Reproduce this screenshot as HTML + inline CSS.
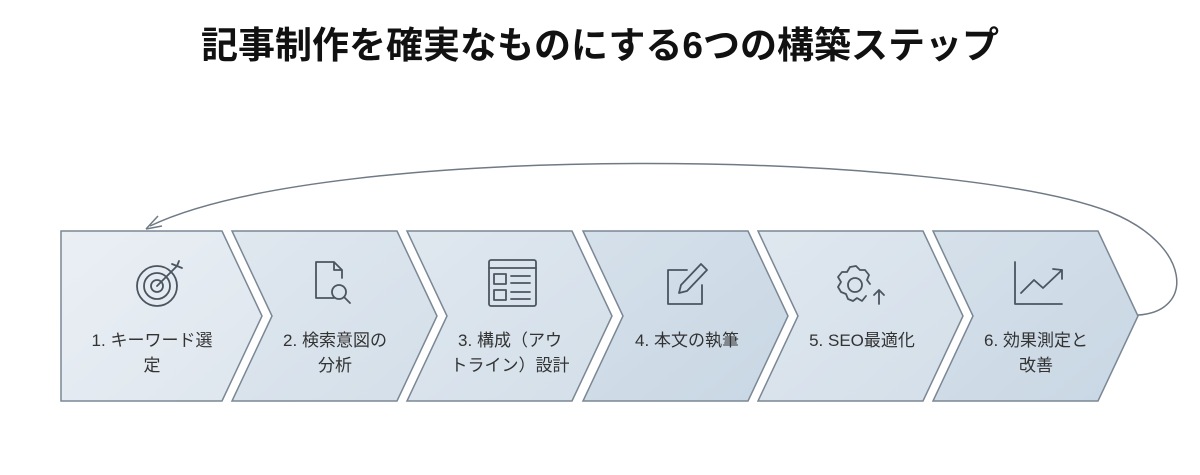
<!DOCTYPE html>
<html><head><meta charset="utf-8"><style>
body{margin:0;background:#fff;}
svg{display:block}
text{font-family:"Liberation Sans","Noto Sans CJK JP",sans-serif;}
</style></head><body>
<svg width="1200" height="475" viewBox="0 0 1200 475" xmlns="http://www.w3.org/2000/svg">
<defs>
<linearGradient id="g1" x1="0" y1="0" x2="1" y2="1"><stop offset="0" stop-color="#eaeff4"/><stop offset="1" stop-color="#dee6ee"/></linearGradient>
<linearGradient id="g3" x1="0" y1="0" x2="1" y2="1"><stop offset="0" stop-color="#dfe7ef"/><stop offset="1" stop-color="#d4dfe9"/></linearGradient>
<linearGradient id="g2" x1="0" y1="0" x2="1" y2="1"><stop offset="0" stop-color="#d5e0ea"/><stop offset="1" stop-color="#c9d7e4"/></linearGradient>
</defs>
<text x="600" y="58" text-anchor="middle" font-size="37" font-weight="bold" fill="#111">記事制作を確実なものにする6つの構築ステップ</text>
<path d="M1138,315 C1195,312 1192,245 1110,212 C950,150 330,140 150,226" fill="none" stroke="#6f7a85" stroke-width="1.5"/>
<path d="M146,229 L158,216 M146,229 L162,226" stroke="#6f7a85" stroke-width="1.5" fill="none"/>
<g stroke="#7a8794" stroke-width="1.5">
<path d="M61,231 L222,231 L262,316 L222,401 L61,401 Z" fill="url(#g1)"/>
<path d="M232,231 L397,231 L437,316 L397,401 L232,401 L272,316 Z" fill="url(#g3)"/>
<path d="M407,231 L572,231 L612,316 L572,401 L407,401 L447,316 Z" fill="url(#g3)"/>
<path d="M583,231 L748,231 L788,316 L748,401 L583,401 L623,316 Z" fill="url(#g2)"/>
<path d="M758,231 L923,231 L963,316 L923,401 L758,401 L798,316 Z" fill="url(#g3)"/>
<path d="M933,231 L1098,231 L1138,316 L1098,401 L933,401 L973,316 Z" fill="url(#g2)"/>
</g>
<g fill="none" stroke="#4b5560" stroke-width="1.8" stroke-linecap="round" stroke-linejoin="round">
<circle cx="157" cy="286" r="20"/><circle cx="157" cy="286" r="13"/><circle cx="157" cy="286" r="6"/>
<path d="M157,286 L177,266 M172,264 L177,266 L179,261 M177,266 L182,268"/>
<path d="M334,298 L316,298 L316,262 L334,262 L342,270 L342,278 M334,262 L334,270 L342,270"/>
<circle cx="339" cy="292" r="7"/><path d="M344,297 L350,303"/>
<rect x="489" y="260" width="47" height="46" rx="2"/><path d="M489,268 L536,268"/>
<rect x="494" y="274" width="12" height="10"/><rect x="494" y="290" width="12" height="10"/>
<path d="M511,276 L530,276 M511,283 L530,283 M511,292 L530,292 M511,299 L530,299"/>
<path d="M687,270 L668,270 L668,304 L702,304 L702,285"/>
<path d="M679,293 L681,285 L701,264 L707,270 L687,291 Z"/>
<circle cx="855" cy="285" r="7"/>
<path d="M866,296 L862,301 L857,298 L853,301 L848,299 L846,294 L841,292 L838,287 L841,282 L838,277 L842,272 L847,272 L850,267 L856,266 L860,270 L865,270 L869,275 L867,280 L870,284"/>
<path d="M879,304 L879,290 M874,295 L879,290 L884,295"/>
<path d="M1015,262 L1015,304 L1062,304"/>
<path d="M1021,293 L1034,280 L1043,288 L1062,270 M1053,269 L1062,270 L1062,279"/>
</g>
<g font-size="17" fill="#333" text-anchor="middle">
<text x="152" y="346">1. キーワード選</text><text x="152" y="371">定</text>
<text x="335" y="346">2. 検索意図の</text><text x="335" y="371">分析</text>
<text x="510" y="346">3. 構成（アウ</text><text x="510" y="371">トライン）設計</text>
<text x="687" y="346">4. 本文の執筆</text>
<text x="862" y="346">5. SEO最適化</text>
<text x="1036" y="346">6. 効果測定と</text><text x="1036" y="371">改善</text>
</g>
</svg>
</body></html>
